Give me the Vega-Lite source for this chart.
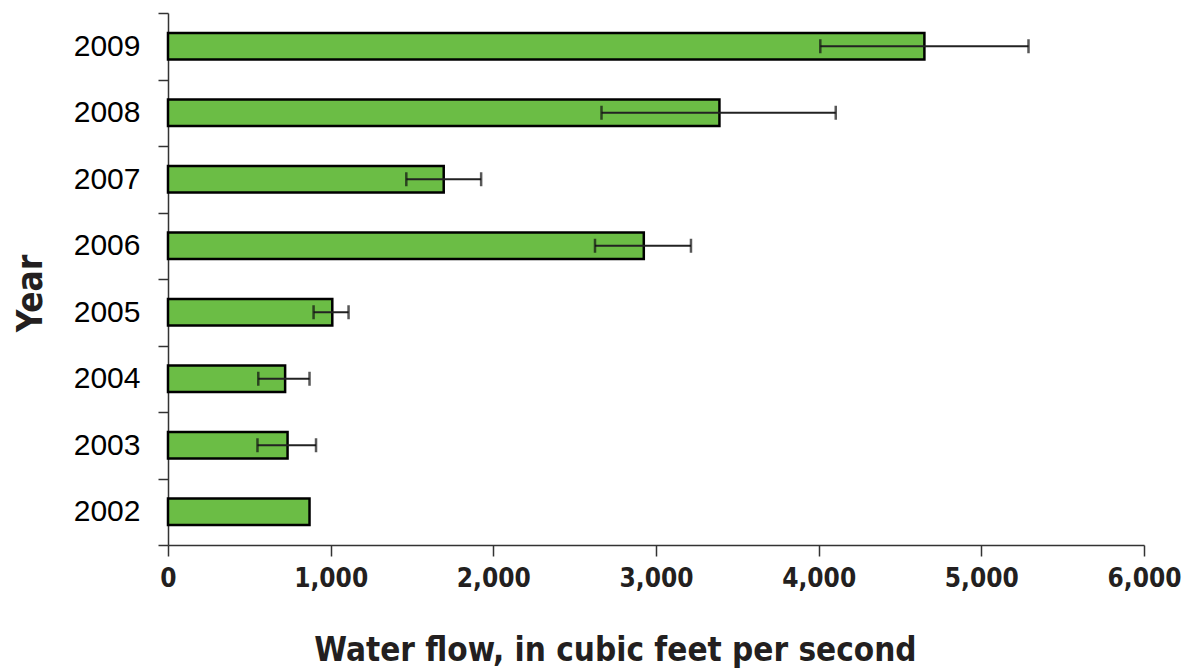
{
  "$schema": "https://vega.github.io/schema/vega-lite/v6.json",
  "width": 976,
  "height": 532,
  "autosize": {"type": "none"},
  "padding": {"left": 168, "top": 13, "right": 38, "bottom": 126},
  "background": "white",
  "config": {"view": {"stroke": null}},
  "data": {
    "values": [
      {"year": "2009", "flow": 4650, "lo": 4010, "hi": 5290},
      {"year": "2008", "flow": 3390, "lo": 2665, "hi": 4105},
      {"year": "2007", "flow": 1695, "lo": 1465, "hi": 1925},
      {"year": "2006", "flow": 2925, "lo": 2625, "hi": 3215},
      {"year": "2005", "flow": 1010, "lo": 895, "hi": 1110},
      {"year": "2004", "flow": 720, "lo": 555, "hi": 870},
      {"year": "2003", "flow": 735, "lo": 550, "hi": 910},
      {"year": "2002", "flow": 870, "lo": null, "hi": null}
    ]
  },
  "encoding": {
    "y": {
      "field": "year",
      "type": "ordinal",
      "sort": "descending",
      "scale": {"paddingInner": 0, "paddingOuter": 0},
      "axis": {
        "title": "Year",
        "titleFont": "DejaVu Sans Condensed, Roboto Condensed, Roboto, sans-serif",
        "titleFontWeight": "bold",
        "titleFontSize": 35,
        "titleColor": "#231f20",
        "titlePadding": 25,
        "titleY": 280,
        "labelFont": "Liberation Sans",
        "labelFontSize": 30,
        "labelColor": "#000000",
        "labelPadding": 18,
        "tickBand": "extent",
        "tickSize": 10,
        "tickColor": "#333333",
        "tickWidth": 1.5,
        "domainColor": "#333333",
        "domainWidth": 1.5
      }
    }
  },
  "layer": [
    {
      "mark": {"type": "bar", "fill": "#6bbd45", "stroke": "#000000", "strokeWidth": 2.5, "height": {"band": 0.4}},
      "encoding": {
        "x": {
          "field": "flow",
          "type": "quantitative",
          "scale": {"domain": [0, 6000], "nice": false},
          "axis": {
            "title": "Water flow, in cubic feet per second",
            "titleFont": "DejaVu Sans Condensed, Roboto Condensed, Roboto, sans-serif",
            "titleFontWeight": "bold",
            "titleFontSize": 33,
            "titleColor": "#231f20",
            "titleBaseline": "alphabetic",
            "titleX": 447,
            "titleY": 115,
            "values": [0, 1000, 2000, 3000, 4000, 5000, 6000],
            "format": ",d",
            "labelFont": "DejaVu Sans Condensed, Roboto Condensed, Roboto, sans-serif",
            "labelFontWeight": "bold",
            "labelFontSize": 26,
            "labelColor": "#231f20",
            "labelPadding": 9,
            "labelFlush": false,
            "grid": false,
            "tickSize": 11,
            "tickColor": "#333333",
            "tickWidth": 1.5,
            "domainColor": "#333333",
            "domainWidth": 1.5
          }
        }
      }
    },
    {
      "transform": [{"filter": "datum.lo != null"}],
      "mark": {"type": "rule", "color": "#222222", "strokeWidth": 2},
      "encoding": {
        "x": {"field": "lo", "type": "quantitative"},
        "x2": {"field": "hi"}
      }
    },
    {
      "transform": [{"filter": "datum.lo != null"}],
      "mark": {"type": "tick", "orient": "vertical", "color": "#111111", "thickness": 2.5, "size": 14},
      "encoding": {"x": {"field": "lo", "type": "quantitative"}}
    },
    {
      "transform": [{"filter": "datum.lo != null"}],
      "mark": {"type": "tick", "orient": "vertical", "color": "#111111", "thickness": 2.5, "size": 14},
      "encoding": {"x": {"field": "hi", "type": "quantitative"}}
    }
  ]
}
